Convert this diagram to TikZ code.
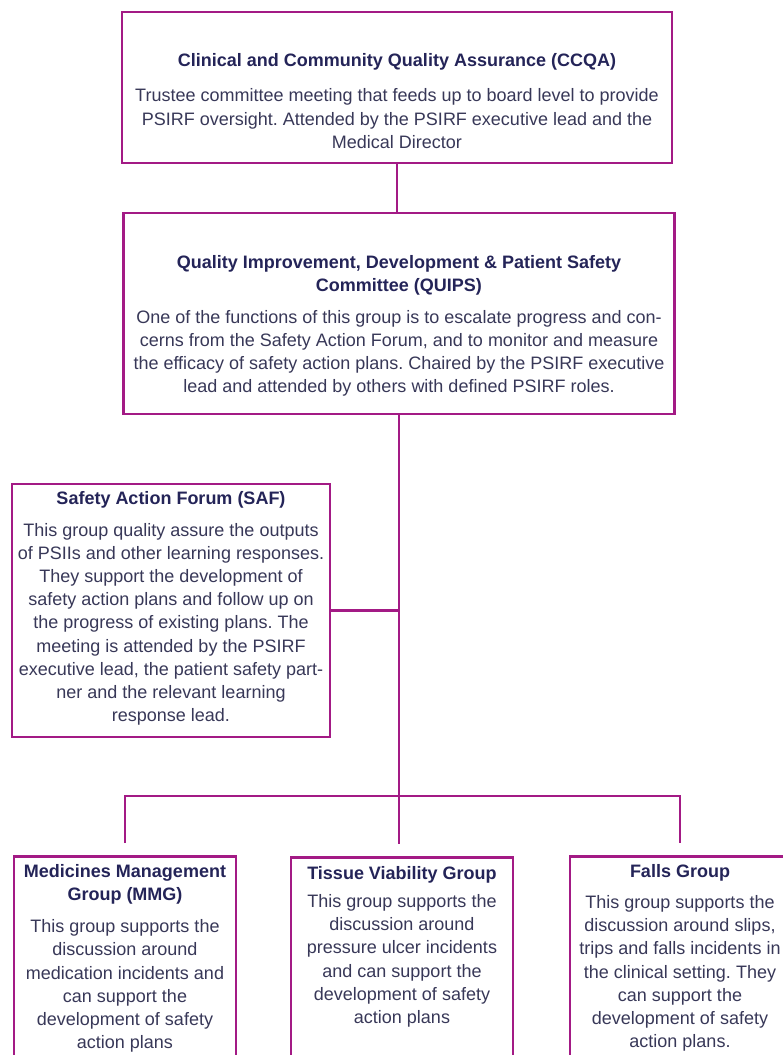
\documentclass[tikz,border=0pt]{standalone}
\usepackage{fontspec}
\setmainfont{Liberation Sans}
\usepackage{xcolor}
\usepackage{tikz}
\usetikzlibrary{positioning}
\frenchspacing

\definecolor{psirf}{RGB}{163,26,133}
\definecolor{headblue}{RGB}{36,36,88}
\definecolor{bodyblue}{RGB}{56,56,88}

\tikzset{
  frame/.style={draw=psirf, line width=2.9pt, inner sep=0pt},
  link/.style={draw=psirf, line width=2.9pt},
  txt/.style={anchor=north, align=center, text=bodyblue, inner sep=0pt,
    font=\fontsize{18}{23.2}\selectfont},
}
\newcommand{\hd}[1]{{\bfseries\color{headblue}#1}}

\begin{document}
\begin{tikzpicture}[x=1pt,y=-1pt]
    \useasboundingbox[fill=white] (0,0) rectangle (782,1055);

    % frames
    \node[frame, minimum width=550pt, minimum height=151pt] (ccqa) at (397,87.5) {};
    \node[frame, minimum width=551pt, minimum height=201pt] (quips) at (399,313.5) {};
    \node[frame, minimum width=318pt, minimum height=253pt] (saf) at (171,610.5) {};
    \node[frame, anchor=north, minimum width=222pt, minimum height=250pt] (mmg) at (125,855) {};
    \node[frame, anchor=north, minimum width=222pt, minimum height=250pt] (tvg) at (402,856) {};
    \node[frame, anchor=north, minimum width=220pt, minimum height=250pt] (falls) at (680,855) {};

    % texts
    \node[txt] (ccqatxt) at ([yshift=-43pt]ccqa.north) {\hd{Clinical and Community Quality Assurance (CCQA)}\\[12pt]
      Trustee committee meeting that feeds up to board level to provide\\
      PSIRF oversight. Attended by the PSIRF executive lead and the\\
      Medical Director};
    \node[txt] (quipstxt) at ([yshift=-44pt]quips.north) {\hd{Quality Improvement, Development \& Patient Safety}\\
      \hd{Committee (QUIPS)}\\[8pt]
      One of the functions of this group is to escalate progress and con-\\
      cerns from the Safety Action Forum, and to monitor and measure\\
      the efficacy of safety action plans. Chaired by the PSIRF executive\\
      lead and attended by others with defined PSIRF roles.};
    \node[txt] (saftxt) at ([yshift=-9pt]saf.north) {\hd{Safety Action Forum (SAF)}\\[8pt]
      This group quality assure the outputs\\
      of PSIIs and other learning responses.\\
      They support the development of\\
      safety action plans and follow up on\\
      the progress of existing plans. The\\
      meeting is attended by the PSIRF\\
      executive lead, the patient safety part-\\
      ner and the relevant learning\\
      response lead.};
    \node[txt] (mmgtxt) at ([yshift=-9pt]mmg.north) {\hd{Medicines Management}\\
      \hd{Group (MMG)}\\[9pt]
      This group supports the\\
      discussion around\\
      medication incidents and\\
      can support the\\
      development of safety\\
      action plans};
    \node[txt] (tvgtxt) at ([yshift=-10pt]tvg.north) {\hd{Tissue Viability Group}\\[5pt]
      This group supports the\\
      discussion around\\
      pressure ulcer incidents\\
      and can support the\\
      development of safety\\
      action plans};
    \node[txt] (fallstxt) at ([yshift=-9pt]falls.north) {\hd{Falls Group}\\[8pt]
      This group supports the\\
      discussion around slips,\\
      trips and falls incidents in\\
      the clinical setting. They\\
      can support the\\
      development of safety\\
      action plans.};

    % connectors
    \coordinate (hub) at (399,796);
    \draw[link] (ccqa.south) -- (ccqa.south |- quips.north);
    \draw[link] (quips.south) -- ([yshift=12pt]quips.south |- tvg.north);
    \draw[link] (saf.east) -- (saf.east -| quips.south);
    \draw[link] ([yshift=12pt]mmg.north) -- (mmg.north |- hub) -- (falls.north |- hub) -- ([yshift=12pt]falls.north);
\end{tikzpicture}
\end{document}
